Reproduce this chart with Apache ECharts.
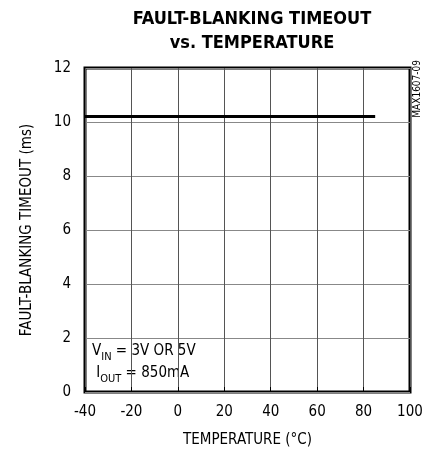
<!DOCTYPE html>
<html>
<head>
<meta charset="utf-8">
<script src="https://cdn.jsdelivr.net/npm/echarts@6/dist/echarts.min.js"></script>
<style>
  html, body { margin: 0; padding: 0; background: #fff; }
  #chart { width: 429px; height: 456px; }
</style>
</head>
<body>
<div id="chart"></div>
<script>
// data
const temperature = [-40, -20, 0, 20, 40, 60, 85];
const timeout = [10.2, 10.2, 10.2, 10.2, 10.2, 10.2, 10.2];
const xTicks = [-40, -20, 0, 20, 40, 60, 80, 100];
const yTicks = [0, 2, 4, 6, 8, 10, 12];

const font = '"Liberation Sans Narrow", "DejaVu Sans Condensed", "Liberation Sans", sans-serif';

const chart = echarts.init(document.getElementById("chart"));

const option = {
  animation: false,
  title: {
    text: "FAULT-BLANKING TIMEOUT\nvs. TEMPERATURE",
    left: 247,
    top: 2,
    textAlign: "center",
    textStyle: {
      fontFamily: font,
      fontWeight: "bold",
      fontSize: 18,
      lineHeight: 24,
      color: "#000"
    }
  },
  grid: {
    left: 85,
    right: 19,
    top: 68,
    bottom: 64,
    show: true,
    borderColor: "#000",
    borderWidth: 3,
    backgroundColor: "transparent"
  },
  xAxis: {
    type: "value",
    min: xTicks[0],
    max: xTicks[xTicks.length - 1],
    interval: 20,
    name: "TEMPERATURE (°C)",
    nameLocation: "middle",
    nameGap: 41,
    nameTextStyle: { fontFamily: font, fontSize: 15, color: "#000" },
    axisLine: { show: false },
    axisTick: { show: true, inside: true, length: 5, lineStyle: { color: "#000", width: 1 } },
    axisLabel: { fontFamily: font, fontSize: 15, color: "#000", margin: 13 },
    splitLine: { show: true, lineStyle: { color: "#555", width: 1 } }
  },
  yAxis: {
    type: "value",
    min: yTicks[0],
    max: yTicks[yTicks.length - 1],
    interval: 2,
    name: "FAULT-BLANKING TIMEOUT (ms)",
    nameLocation: "middle",
    nameGap: 50,
    nameRotate: 90,
    nameTextStyle: { fontFamily: font, fontSize: 15, color: "#000" },
    axisLine: { show: false },
    axisTick: { show: false },
    axisLabel: { fontFamily: font, fontSize: 15, color: "#000", margin: 14 },
    splitLine: { show: true, lineStyle: { color: "#888", width: 1 } }
  },
  series: [
    {
      type: "line",
      data: temperature.map((t, i) => [t, timeout[i]]),
      showSymbol: false,
      lineStyle: { color: "#000", width: 3 }
    }
  ],
  graphic: [
    {
      type: "text",
      left: 92,
      top: 344,
      style: {
        text: "{n|V}{s|IN}{n| = 3V OR 5V}\n{n| I}{s|OUT}{n| = 850mA}",
        rich: {
          n: { fontFamily: font, fontSize: 15, color: "#000", lineHeight: 22 },
          s: { fontFamily: font, fontSize: 11, color: "#000", lineHeight: 22, verticalAlign: "bottom", padding: [5, 0, 0, 0] }
        }
      }
    },
    {
      type: "text",
      left: 412,
      top: 60,
      rotation: Math.PI / 2,
      style: {
        text: "MAX1607-09",
        fontFamily: font,
        fontSize: 10,
        fill: "#000"
      }
    }
  ]
};

chart.setOption(option);
window.addEventListener("resize", () => chart.resize());
</script>
</body>
</html>
